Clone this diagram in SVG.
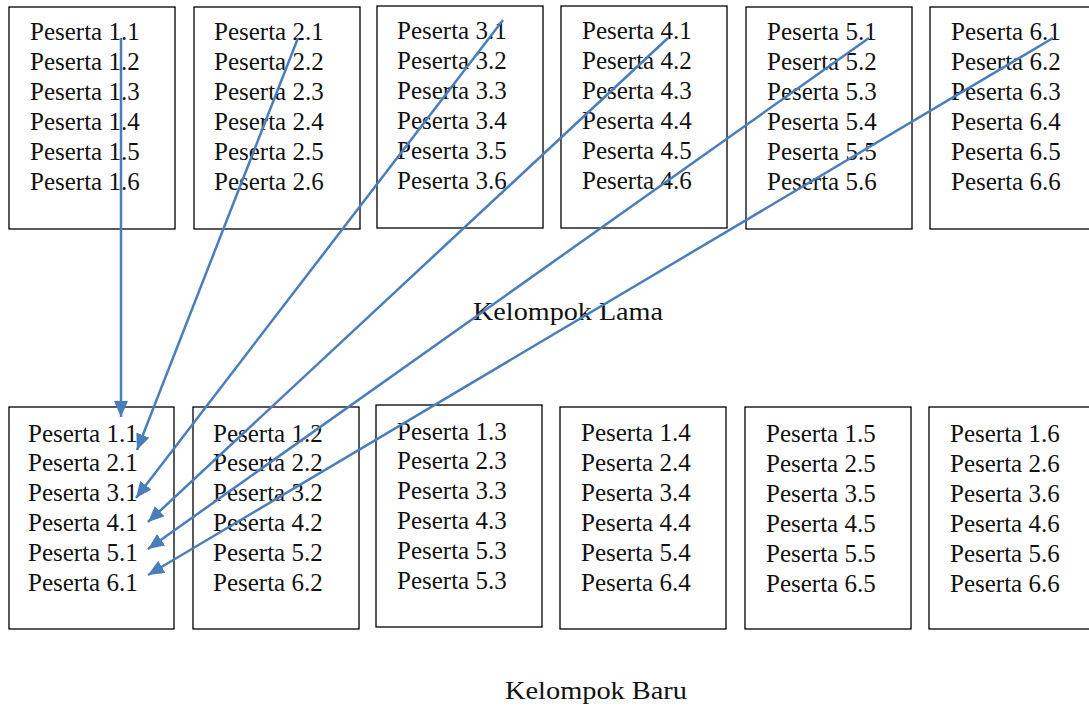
<svg xmlns="http://www.w3.org/2000/svg" width="1089" height="709" viewBox="0 0 1089 709">
  <style>
    .box { fill: #ffffff; stroke: #000000; stroke-width: 1.3; }
    .lbl { font-family: "Liberation Serif", "DejaVu Serif", serif; font-size: 25px; fill: #111111; }
    .title { font-family: "Liberation Serif", "DejaVu Serif", serif; font-size: 26px; fill: #111111; text-anchor: middle; }
    .link { stroke: #4a7ebb; stroke-width: 2.5; fill: none; marker-end: url(#head); }
  </style>
  <defs>
    <marker id="head" markerUnits="userSpaceOnUse" markerWidth="17" markerHeight="15" refX="16" refY="7" orient="auto">
      <path d="M0,0 L16,7 L0,14 z" fill="#4a7ebb"/>
    </marker>
  </defs>
  <rect width="1089" height="709" fill="#ffffff"/>

  <!-- old groups -->
  <g id="lama-1">
    <rect class="box" x="9" y="7" width="166" height="222"/>
    <text class="lbl" x="30" y="40">Peserta 1.1</text>
    <text class="lbl" x="30" y="70">Peserta 1.2</text>
    <text class="lbl" x="30" y="100">Peserta 1.3</text>
    <text class="lbl" x="30" y="130">Peserta 1.4</text>
    <text class="lbl" x="30" y="160">Peserta 1.5</text>
    <text class="lbl" x="30" y="190">Peserta 1.6</text>
  </g>
  <g id="lama-2">
    <rect class="box" x="194" y="7" width="166" height="222"/>
    <text class="lbl" x="214" y="40">Peserta 2.1</text>
    <text class="lbl" x="214" y="70">Peserta 2.2</text>
    <text class="lbl" x="214" y="100">Peserta 2.3</text>
    <text class="lbl" x="214" y="130">Peserta 2.4</text>
    <text class="lbl" x="214" y="160">Peserta 2.5</text>
    <text class="lbl" x="214" y="190">Peserta 2.6</text>
  </g>
  <g id="lama-3">
    <rect class="box" x="377" y="6" width="166" height="222"/>
    <text class="lbl" x="397" y="39">Peserta 3.1</text>
    <text class="lbl" x="397" y="69">Peserta 3.2</text>
    <text class="lbl" x="397" y="99">Peserta 3.3</text>
    <text class="lbl" x="397" y="129">Peserta 3.4</text>
    <text class="lbl" x="397" y="159">Peserta 3.5</text>
    <text class="lbl" x="397" y="189">Peserta 3.6</text>
  </g>
  <g id="lama-4">
    <rect class="box" x="561" y="6" width="166" height="222"/>
    <text class="lbl" x="582" y="39">Peserta 4.1</text>
    <text class="lbl" x="582" y="69">Peserta 4.2</text>
    <text class="lbl" x="582" y="99">Peserta 4.3</text>
    <text class="lbl" x="582" y="129">Peserta 4.4</text>
    <text class="lbl" x="582" y="159">Peserta 4.5</text>
    <text class="lbl" x="582" y="189">Peserta 4.6</text>
  </g>
  <g id="lama-5">
    <rect class="box" x="746" y="7" width="166" height="222"/>
    <text class="lbl" x="767" y="40">Peserta 5.1</text>
    <text class="lbl" x="767" y="70">Peserta 5.2</text>
    <text class="lbl" x="767" y="100">Peserta 5.3</text>
    <text class="lbl" x="767" y="130">Peserta 5.4</text>
    <text class="lbl" x="767" y="160">Peserta 5.5</text>
    <text class="lbl" x="767" y="190">Peserta 5.6</text>
  </g>
  <g id="lama-6">
    <rect class="box" x="930" y="7" width="170" height="222"/>
    <text class="lbl" x="951" y="40">Peserta 6.1</text>
    <text class="lbl" x="951" y="70">Peserta 6.2</text>
    <text class="lbl" x="951" y="100">Peserta 6.3</text>
    <text class="lbl" x="951" y="130">Peserta 6.4</text>
    <text class="lbl" x="951" y="160">Peserta 6.5</text>
    <text class="lbl" x="951" y="190">Peserta 6.6</text>
  </g>
  <text class="title" x="568" y="320" textLength="190" lengthAdjust="spacingAndGlyphs">Kelompok Lama</text>

  <!-- new groups -->
  <g id="baru-1">
    <rect class="box" x="9" y="407" width="165" height="222"/>
    <text class="lbl" x="28" y="442">Peserta 1.1</text>
    <text class="lbl" x="28" y="471">Peserta 2.1</text>
    <text class="lbl" x="28" y="501">Peserta 3.1</text>
    <text class="lbl" x="28" y="531">Peserta 4.1</text>
    <text class="lbl" x="28" y="561">Peserta 5.1</text>
    <text class="lbl" x="28" y="591">Peserta 6.1</text>
  </g>
  <g id="baru-2">
    <rect class="box" x="193" y="407" width="166" height="222"/>
    <text class="lbl" x="213" y="442">Peserta 1.2</text>
    <text class="lbl" x="213" y="471">Peserta 2.2</text>
    <text class="lbl" x="213" y="501">Peserta 3.2</text>
    <text class="lbl" x="213" y="531">Peserta 4.2</text>
    <text class="lbl" x="213" y="561">Peserta 5.2</text>
    <text class="lbl" x="213" y="591">Peserta 6.2</text>
  </g>
  <g id="baru-3">
    <rect class="box" x="376" y="405" width="166" height="222"/>
    <text class="lbl" x="397" y="440">Peserta 1.3</text>
    <text class="lbl" x="397" y="469">Peserta 2.3</text>
    <text class="lbl" x="397" y="499">Peserta 3.3</text>
    <text class="lbl" x="397" y="529">Peserta 4.3</text>
    <text class="lbl" x="397" y="559">Peserta 5.3</text>
    <text class="lbl" x="397" y="589">Peserta 5.3</text>
  </g>
  <g id="baru-4">
    <rect class="box" x="560" y="407" width="166" height="222"/>
    <text class="lbl" x="581" y="441">Peserta 1.4</text>
    <text class="lbl" x="581" y="471">Peserta 2.4</text>
    <text class="lbl" x="581" y="501">Peserta 3.4</text>
    <text class="lbl" x="581" y="531">Peserta 4.4</text>
    <text class="lbl" x="581" y="561">Peserta 5.4</text>
    <text class="lbl" x="581" y="591">Peserta 6.4</text>
  </g>
  <g id="baru-5">
    <rect class="box" x="745" y="407" width="166" height="222"/>
    <text class="lbl" x="766" y="442">Peserta 1.5</text>
    <text class="lbl" x="766" y="472">Peserta 2.5</text>
    <text class="lbl" x="766" y="502">Peserta 3.5</text>
    <text class="lbl" x="766" y="532">Peserta 4.5</text>
    <text class="lbl" x="766" y="562">Peserta 5.5</text>
    <text class="lbl" x="766" y="592">Peserta 6.5</text>
  </g>
  <g id="baru-6">
    <rect class="box" x="929" y="407" width="170" height="222"/>
    <text class="lbl" x="950" y="442">Peserta 1.6</text>
    <text class="lbl" x="950" y="472">Peserta 2.6</text>
    <text class="lbl" x="950" y="502">Peserta 3.6</text>
    <text class="lbl" x="950" y="532">Peserta 4.6</text>
    <text class="lbl" x="950" y="562">Peserta 5.6</text>
    <text class="lbl" x="950" y="592">Peserta 6.6</text>
  </g>
  <text class="title" x="596" y="699" textLength="182" lengthAdjust="spacingAndGlyphs">Kelompok Baru</text>

  <!-- each first member moves into the first new group -->
  <g id="connectors">
    <line class="link" x1="121" y1="38" x2="121" y2="417"/>
    <line class="link" x1="298" y1="38" x2="137" y2="450"/>
    <line class="link" x1="503" y1="20" x2="136" y2="498"/>
    <line class="link" x1="668" y1="38" x2="148" y2="522"/>
    <line class="link" x1="869" y1="38" x2="148" y2="549"/>
    <line class="link" x1="1053" y1="38" x2="148" y2="575"/>
  </g>
</svg>
